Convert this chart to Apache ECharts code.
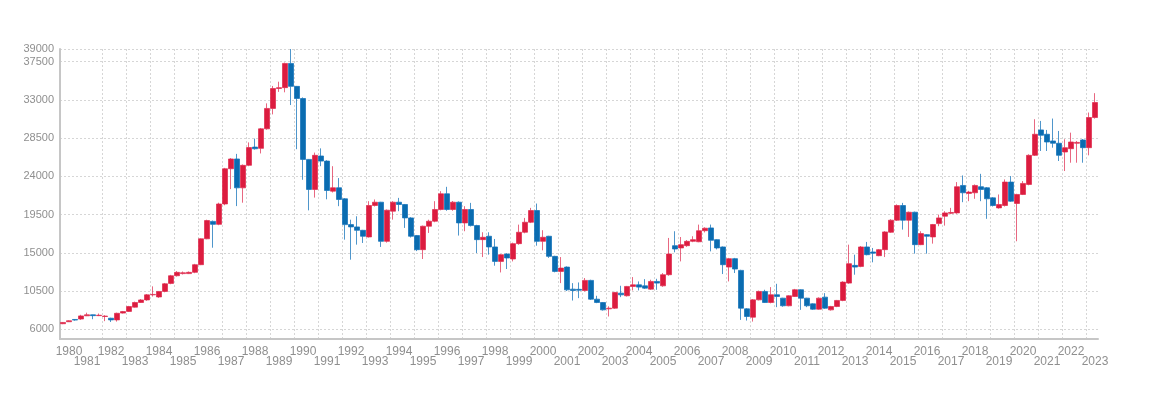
<!DOCTYPE html>
<html><head><meta charset="utf-8">
<script src="https://cdn.jsdelivr.net/npm/echarts@6/dist/echarts.min.js"></script>
<style>html,body{margin:0;padding:0;background:#fff}#c{width:1174px;height:400px}</style>
</head><body><div id="c"></div>
<script>
// Year tick labels along the x axis (one label per year)
const years = [1980,1981,1982,1983,1984,1985,1986,1987,1988,1989,1990,1991,1992,1993,1994,1995,1996,1997,1998,1999,2000,2001,2002,2003,2004,2005,2006,2007,2008,2009,2010,2011,2012,2013,2014,2015,2016,2017,2018,2019,2020,2021,2022,2023];
const firstQuarter = 2; // first candle: 1980 Q2
// Y axis tick labels
const yTicks = [6000,10500,15000,19500,24000,28500,33000,37500,39000];

// Quarterly OHLC values
const open = [6650,6880,7150,7200,7580,7700,7600,7500,7300,7100,7900,8100,8600,9150,9450,10050,9800,10450,11400,12300,
12550,12550,12700,13600,16650,18700,18350,20750,24900,26050,22650,25300,27450,27300,29600,32000,34350,34450,37300,34600,
33170,26000,22460,26400,25800,22260,22660,21360,18320,18050,17650,16870,20570,20960,16350,19900,20960,20690,19110,17030,
15370,18130,18720,20100,21950,20100,20960,18520,20100,18210,16550,16950,15690,13990,14860,14270,16080,17420,18600,19980,
16350,16950,14580,12810,13320,10720,10700,10560,11750,9540,9150,8400,8480,10250,9940,11040,11230,11110,10720,11630,
11110,12420,15840,15570,15840,16350,16300,17600,17930,16550,15690,13320,14310,12930,8400,7420,9460,10450,9150,10060,
9660,8760,9860,10650,9660,8990,8360,9780,8280,8680,9390,11430,13520,13400,15690,15100,14660,15370,17420,18840,
20570,18840,19780,15960,17140,16870,18440,19310,19650,19700,22930,21990,22070,22780,22660,21470,20290,20570,23330,20810,
21870,23050,26480,29470,28960,28170,27900,26870,27260,27900,28290,27380,30930];
const close = [6800,7000,7080,7570,7700,7600,7650,7550,7100,7880,8080,8670,9150,9450,10050,10100,10450,11350,12300,12700,
12650,12700,13600,16650,18800,18350,20750,24900,26050,22650,25300,27400,27250,29600,32000,34350,34450,37300,34600,33180,
26000,22460,26480,25800,22340,22660,21280,18320,18050,17650,16950,20570,20960,16350,20020,20960,20690,19110,16950,15370,
18130,18720,20100,21950,20100,20960,18520,20100,18210,16550,16830,15690,13990,14780,14390,16080,17420,18600,19980,16350,
16830,14580,12810,13200,10640,10560,10600,11750,9540,9150,8280,8480,10330,10050,11040,11230,10960,10840,11630,11430,
12420,14860,15450,15960,16350,16550,17600,17900,16470,15570,13600,14310,13090,8480,7500,9460,10450,9150,10060,9860,
8760,9940,10650,9660,8760,8360,9660,8480,8680,9390,11550,13720,13320,15690,14780,14950,15370,17460,18840,20570,
18840,19780,15960,17260,16950,18330,19110,19700,19750,22780,22070,22150,22930,22460,21360,20570,20690,23330,21080,21870,
23170,26480,28960,28840,28050,27900,26480,27380,28050,28000,27380,30930,32700];
const low = [6600,6850,7000,7100,7550,7180,7550,6950,6850,6900,7850,8050,8550,9100,9350,9850,9700,10350,11300,12200,
12450,12500,12600,13550,16600,15600,18250,20600,22500,20500,20900,25200,27150,26700,29500,31300,33950,33900,32400,27200,
23600,20000,21500,25200,21300,22100,20490,16550,14190,15960,16160,16800,20450,15690,16200,18910,19900,17930,16800,15200,
14270,17340,18600,20000,19950,19950,17030,17540,18100,14970,14500,14780,13480,12690,13090,13990,15950,17300,18500,15840,
15290,14400,12700,11430,10500,9380,9660,10450,9450,9070,8200,7500,8400,9780,9850,10570,10570,10750,10640,10640,
11000,12300,15060,13990,15700,16250,16250,17400,15170,15400,12500,11630,12620,7100,7020,6900,9400,9100,9050,8600,
8650,8700,9800,8280,8600,8280,8300,8400,8200,8600,9300,11350,12420,13300,14700,13880,14600,14500,17350,18750,
17730,16870,14900,15900,14900,16080,18130,18200,19550,19600,20960,21080,21360,21080,19000,20450,20200,20450,21000,16360,
21800,22950,26400,26990,26990,27380,25810,24630,25610,25610,25610,26480,30800];
const high = [6850,7050,7200,7700,7950,7720,7850,7650,7350,7950,8150,8750,9250,9550,10150,11050,10500,11450,12400,12850,
12800,12800,13700,16700,18900,18800,20900,25000,26150,26650,25400,28000,28450,29700,32600,34650,35150,37400,39000,34650,
33300,26050,26800,27300,25900,25200,23800,21450,18900,19300,17700,21080,21280,21000,20100,21080,21470,20750,19200,17100,
18200,18900,21080,22260,22770,21100,21050,20490,20880,18300,17420,17420,16630,14850,14950,16200,18320,19110,20290,20800,
17660,17000,14650,14500,13400,11430,11510,12030,11830,9940,9200,8700,10400,11120,11100,12140,11630,11900,11830,11940,
12610,16750,17540,16860,16500,16950,18320,18000,18325,16600,15750,14400,14400,13000,8480,9550,10550,10650,10960,11350,
9700,10000,10750,10700,9700,9050,9750,10250,8750,9450,11650,15960,14780,15800,16280,15570,15450,17550,18950,20700,
20880,19850,19850,17540,17200,18400,19500,19900,20290,23330,24110,22300,23050,24300,22750,21550,21870,23640,24040,21950,
23450,26600,30730,30530,29470,30810,29350,28370,29150,28170,28400,31520,33800];

// Category for each candle (quarters)
const categories = open.map(function (_, i) {
  const q = firstQuarter - 1 + i;
  return years[Math.floor(q / 4)] + ' Q' + (q % 4 + 1);
});
const ohlc = open.map(function (o, i) { return [o, close[i], low[i], high[i]]; });

const chart = echarts.init(document.getElementById('c'), null, {renderer: 'canvas'});
const labelColor = '#8f8f8f';
const font = 'Liberation Sans, Arial, sans-serif';
function yearLabelAxis(row) {
  // row 0: even years (upper row), row 1: odd years (lower row)
  return {
    type: 'category',
    data: categories,
    boundaryGap: true,
    position: 'bottom',
    axisLine: {show: row === 0, lineStyle: {color: '#c6c6c6', width: 2}},
    axisTick: {show: false},
    axisLabel: {
      interval: function (i) { return i % 8 === row * 4; },
      showMinLabel: true, showMaxLabel: true, hideOverlap: false,
      color: labelColor, fontSize: 12, fontFamily: font, lineHeight: 12,
      margin: row === 0 ? 7 : 17,
      formatter: function (value, index) {
        const y = value.slice(0, 4);
        return index === 0 ? '{f|' + y + '}' : y;
      },
      rich: {f: {padding: [0, 0, 0, 12], color: labelColor, fontSize: 12, fontFamily: font, lineHeight: 12}}
    },
    splitLine: {
      show: row === 0, showMinLine: false, showMaxLine: false,
      interval: function (i) { return i % 4 === 3; },
      lineStyle: {color: '#d6d6d6', width: 1, type: [2, 2]}
    }
  };
}
chart.setOption({
  animation: false,
  backgroundColor: '#fff',
  grid: {left: 60, right: 76, top: 49, bottom: 61, containLabel: false, outerBoundsMode: 'none'},
  xAxis: [yearLabelAxis(0), yearLabelAxis(1)],
  yAxis: {
    type: 'value',
    min: 4850, max: 39000,
    axisLine: {show: true, lineStyle: {color: '#c6c6c6', width: 2}},
    axisTick: {show: false, customValues: yTicks},
    axisLabel: {
      customValues: yTicks, showMinLabel: true, showMaxLabel: true,
      formatter: function (v) { return String(v); },
      color: labelColor, fontSize: 11, fontFamily: font, margin: 6, padding: [0, 0, 6, 0]
    },
    splitLine: {show: true, lineStyle: {color: '#d6d6d6', width: 1, type: [2, 2]}}
  },
  series: [{
    type: 'candlestick',
    xAxisIndex: 0,
    data: ohlc,
    barWidth: 5,
    itemStyle: {
      color: '#dc1c3f', color0: '#0a6cb0',
      borderColor: 'rgba(222,40,75,0.7)', borderColor0: 'rgba(20,115,185,0.75)',
      borderWidth: 1
    }
  }]
});
</script></body></html>
